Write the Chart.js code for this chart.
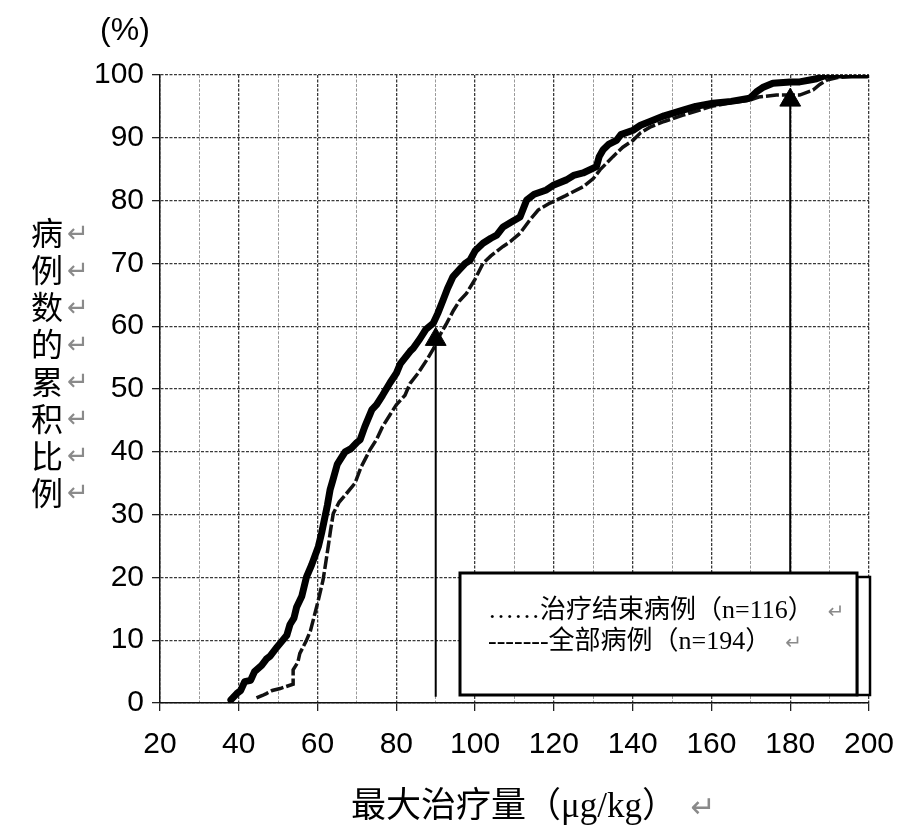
<!DOCTYPE html>
<html>
<head>
<meta charset="utf-8">
<script src="https://cdn.jsdelivr.net/npm/chart.js@4/dist/chart.umd.min.js"></script>
<style>
html,body{margin:0;padding:0;background:#fff;}
#wrap{width:903px;height:832px;position:relative;}
</style>
</head>
<body>
<div id="wrap"><canvas id="c" width="903" height="832"></canvas></div>
<script>
// ---- Data ----
const xTickLabels = [20, 40, 60, 80, 100, 120, 140, 160, 180, 200];
const yTickLabels = [0, 10, 20, 30, 40, 50, 60, 70, 80, 90, 100];

// 治疗结束病例 (n=116) — thick line
const endDose = [38.0,39.5,40.5,41.5,43,44,45.8,47,48,49.6,50.5,52.2,53,54,54.7,56,57.2,58.5,60.2,61,61.9,62.5,63.2,63.9,65,65.7,67,68.5,70,70.8,72,73.8,75,76.5,78.4,80,81,83.5,84.3,86,87.5,89.4,90.5,91.9,93,94.4,96,97.5,98.7,100,102,104,105.5,107.1,109,111.4,113.1,115,118.1,120,123.2,125,127.4,130.8,131.5,132.5,134,135.9,137,140.1,142,144.4,148,152.8,156,160.4,165,169.7,171.4,173,175.6,180,182.4,185,186.7,189.3,195,199.5];
const endPct  = [0.5,1.5,2,3.4,3.6,5,6,7,7.5,8.8,9.5,10.8,12.5,13.5,15.3,17,20.1,22,24.9,27,29.7,31.5,34,35.5,38,38.7,40,40.5,41.5,41.9,44,46.7,47.5,49,51,52.5,54,56,56.5,58,59.5,60.5,62,64.2,66,67.9,69,70,70.5,72,73.2,74,74.5,75.8,76.5,77.4,80.1,81,81.7,82.5,83.3,84,84.4,85.4,87,88.1,89,89.6,90.5,91.2,92,92.6,93.5,94.4,95,95.5,95.8,96.3,97.3,98,98.7,98.9,98.9,99.2,99.4,100,100,100];

// 全部病例 (n=194) — dashed line
const allDose = [44.5,46,47,48.5,50.5,53.8,53.8,55,55.5,57.2,58.2,58.9,60.2,61.4,62,62.7,63.3,64,65.5,67.4,69.5,71,73.3,75,76.5,78.4,80,82.2,83.5,85.5,87.7,89.5,91,92.8,94.5,96,97.8,100,102,104,107.1,109,111.4,113.9,116,119,123,127.4,130,131.7,135,137.5,140.1,142,144.4,148,152.8,160,165,169.7,172,176.5,182.4,185.8,187.5,189.3,192,199.5];
const allPct  = [0.8,1.2,1.5,2,2.3,3,5.3,6.5,7.9,10,11.5,13.2,16.4,19.6,22,24.9,27.5,30.2,32,33.4,35,37.5,40.3,42,44,45.9,47.5,49,50.9,52.5,54.6,56.5,58.5,60.5,62.5,64,65.2,67.5,70,71.2,72.7,73.5,74.8,76.9,78.5,79.6,80.8,82.2,83.5,84.9,87,88.5,89.6,90.8,91.7,92.6,93.6,95,95.6,96,96.5,96.8,96.8,97.6,98.5,99.2,99.6,100];

// Marker arrows (dose, base %, tip %)
const arrowDoses = [90, 180];
const arrowBase  = [1, 1.3];
const arrowTip   = [57.9, 96];

const legendLines = ['……治疗结束病例（n=116）', '-------全部病例（n=194）'];
const yTitleChars = ['病','例','数','的','累','积','比','例'];
const xTitle = '最大治疗量（μg/kg）';
const yUnit = '(%)';

// ---- build ----
const toPts = (xs, ys) => xs.map((x, i) => ({x: x, y: ys[i]}));
const tickFontFamily = '"Liberation Sans", Arial, sans-serif';
const tickFont = {family: tickFontFamily, size: 30};

const datasets = [
  {label: '治疗结束病例', data: toPts(endDose, endPct), borderColor: '#000', borderWidth: 7, pointRadius: 0, tension: 0, borderJoinStyle: 'round', borderCapStyle: 'round', order: 2},
  {label: '全部病例', data: toPts(allDose, allPct), borderColor: '#111', borderWidth: 3.5, borderDash: [13, 3], pointRadius: 0, tension: 0, order: 3}
];
arrowDoses.forEach((d, i) => {
  datasets.push({label: 'arrow' + i, data: [{x: d, y: arrowBase[i]}, {x: d, y: arrowTip[i]}],
    borderColor: '#000', borderWidth: 2, pointStyle: 'triangle', pointRadius: [0, 12],
    pointBackgroundColor: '#000', pointBorderColor: '#000', pointBorderWidth: 1, order: 1, clip: false});
});

const annotate = {
  id: 'annotate',
  afterDraw(chart) {
    const ctx = chart.ctx;
    const ca = chart.chartArea;
    ctx.save();
    // (%) unit
    ctx.fillStyle = '#000';
    ctx.font = '32px ' + tickFontFamily;
    ctx.textAlign = 'center';
    ctx.textBaseline = 'middle';
    ctx.fillText(yUnit, 125, 31);

    // vertical y title
    yTitleChars.forEach((ch, i) => {
      const y = 233 + i * 37.1;
      ctx.fillStyle = '#000';
      ctx.textAlign = 'center';
      ctx.font = '32px "Noto Sans CJK SC"';
      ctx.fillText(ch, 47, y);
      ctx.fillStyle = '#8a8a8a';
      ctx.font = '26px "DejaVu Sans"';
      ctx.fillText('↵', 78, y + 2);
    });

    // x title
    ctx.textAlign = 'left';
    ctx.fillStyle = '#000';
    ctx.font = '35px "Liberation Serif", "Noto Sans CJK SC"';
    ctx.fillText(xTitle, 351, 808);
    ctx.fillStyle = '#8a8a8a';
    ctx.font = '30px "DejaVu Sans"';
    ctx.textAlign = 'center';
    ctx.fillText('↵', 703, 809);

    // legend box (double frame)
    const bx = ca.right - 409, by = 573, bw = 397, bh = 122;
    ctx.fillStyle = '#fff';
    ctx.fillRect(bx + bw, by + 4, 13, bh - 4);
    ctx.lineWidth = 2.5;
    ctx.strokeStyle = '#000';
    ctx.strokeRect(bx + bw, by + 4, 13, bh - 4);
    ctx.fillRect(bx, by, bw, bh);
    ctx.lineWidth = 3;
    ctx.strokeRect(bx, by, bw, bh);

    ctx.textBaseline = 'middle';
    legendLines.forEach((t, i) => {
      const ly = by + 38 + i * 31;
      ctx.textAlign = 'left';
      ctx.fillStyle = '#000';
      ctx.font = '26px "Liberation Serif", "Noto Sans CJK SC"';
      ctx.fillText(t, bx + 28, ly);
      const w = ctx.measureText(t).width;
      ctx.fillStyle = '#8a8a8a';
      ctx.font = '20px "DejaVu Sans"';
      ctx.fillText('↵', bx + 28 + w + 14, ly + 2);
    });
    ctx.restore();
  }
};

new Chart(document.getElementById('c'), {
  type: 'line',
  data: {datasets: datasets},
  options: {
    responsive: false,
    animation: false,
    events: [],
    layout: {padding: {left: 0, right: 34, top: 75, bottom: 0}},
    plugins: {legend: {display: false}, tooltip: {enabled: false}},
    scales: {
      x: {
        type: 'linear', min: 20, max: 200,
        afterFit: s => { s.height = 129; s.paddingLeft = 0; s.paddingRight = 0; },
        afterBuildTicks: s => { s.ticks = []; for (let v = 20; v <= 200; v += 10) s.ticks.push({value: v}); },
        ticks: {
          callback: v => xTickLabels.includes(v) ? String(v) : '',
          font: tickFont, color: '#000', maxRotation: 0, autoSkip: false, padding: 16
        },
        grid: {
          color: c => (c.tick && c.tick.value % 20 === 0) ? '#3a3a3a' : '#9a9a9a',
          lineWidth: c => (c.tick && c.tick.value % 20 === 0) ? 1.3 : 1,
          tickLength: 8,
          tickColor: c => (c.tick && c.tick.value % 20 === 0) ? '#222' : 'rgba(0,0,0,0)'
        },
        border: {color: '#111', width: 1.5, dash: [3, 1.5]}
      },
      y: {
        type: 'linear', min: 0, max: 100,
        afterFit: s => { s.width = 160; },
        afterBuildTicks: s => { s.ticks = []; for (let v = 0; v <= 100; v += 5) s.ticks.push({value: v}); },
        ticks: {
          callback: v => yTickLabels.includes(v) ? String(v) : '',
          font: tickFont, color: '#000', padding: 8
        },
        grid: {
          color: c => (c.tick && c.tick.value % 10 === 0) ? '#3a3a3a' : '#a0a0a0',
          lineWidth: c => (c.tick && c.tick.value % 10 === 0) ? 1.3 : 1,
          tickLength: 8,
          tickColor: c => (c.tick && c.tick.value % 10 === 0) ? '#222' : 'rgba(0,0,0,0)'
        },
        border: {color: '#111', width: 1.5, dash: [3, 1.5]}
      }
    }
  },
  plugins: [annotate]
});
</script>
</body>
</html>
